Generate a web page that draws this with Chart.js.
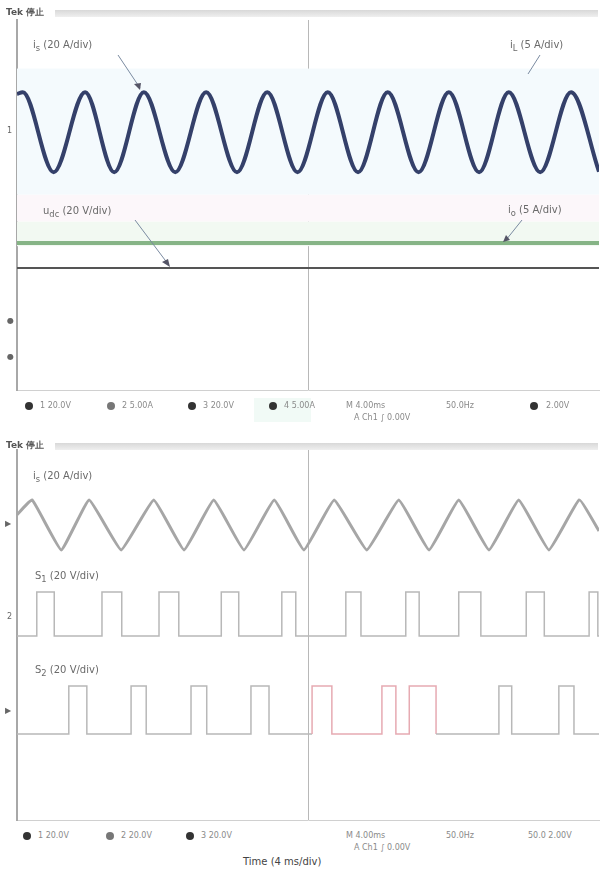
<!DOCTYPE html>
<html>
<head>
<meta charset="utf-8">
<script src="https://cdn.jsdelivr.net/npm/chart.js@4.4.1/dist/chart.umd.min.js"></script>
<style>
body { margin: 0; width: 602px; height: 874px; position: relative; overflow: hidden; background: #fff; font-family: "DejaVu Sans", sans-serif; }
.abs { position: absolute; white-space: nowrap; }
.lbl { font-size: 10px; color: #6a6a6a; }
.hdr { font-size: 9px; font-weight: bold; color: #555; }
.bar { height: 7px; background: linear-gradient(#d8d8d8, #efefef); }
.st { font-size: 8px; color: #8a8a8a; }
.dot { width: 8px; height: 8px; border-radius: 50%; background: #333; }
.mk { font-size: 8px; color: #666; }
#c1 { position: absolute; left: 0; top: 0; }
#c2 { position: absolute; left: 0; top: 440px; }
svg { position: absolute; left: 0; top: 0; }
</style>
</head>
<body>
<canvas id="c1" width="602" height="400"></canvas>
<canvas id="c2" width="602" height="388"></canvas>

<!-- headers -->
<div class="abs hdr" style="left:6px;top:6px;">Tek 停止</div>
<div class="abs bar" style="left:55px;top:10px;width:543px;"></div>
<div class="abs hdr" style="left:6px;top:439px;">Tek 停止</div>
<div class="abs bar" style="left:55px;top:443px;width:543px;"></div>

<!-- channel labels -->
<div class="abs lbl" style="left:33px;top:39px;">i<sub>s</sub> (20 A/div)</div>
<div class="abs lbl" style="left:510px;top:39px;">i<sub>L</sub> (5 A/div)</div>
<div class="abs lbl" style="left:43px;top:205px;">u<sub>dc</sub> (20 V/div)</div>
<div class="abs lbl" style="left:508px;top:204px;">i<sub>o</sub> (5 A/div)</div>
<div class="abs lbl" style="left:33px;top:470px;">i<sub>s</sub> (20 A/div)</div>
<div class="abs lbl" style="left:35px;top:570px;">S<sub>1</sub> (20 V/div)</div>
<div class="abs lbl" style="left:35px;top:664px;">S<sub>2</sub> (20 V/div)</div>

<!-- channel markers -->
<div class="abs mk" style="left:7px;top:126px;">1</div>
<div class="abs mk" style="left:7px;top:316px;">●</div>
<div class="abs mk" style="left:7px;top:352px;">●</div>
<div class="abs mk" style="left:5px;top:519px;">▶</div>
<div class="abs mk" style="left:7px;top:612px;">2</div>
<div class="abs mk" style="left:5px;top:706px;">▶</div>

<!-- status bars -->
<div class="abs dot" style="left:25px;top:402px;"></div>
<div class="abs st" style="left:40px;top:401px;">1 20.0V</div>
<div class="abs dot" style="left:107px;top:402px;background:#777;"></div>
<div class="abs st" style="left:122px;top:401px;">2 5.00A</div>
<div class="abs dot" style="left:188px;top:402px;"></div>
<div class="abs st" style="left:203px;top:401px;">3 20.0V</div>
<div class="abs" style="left:254px;top:398px;width:57px;height:24px;background:#f1faf6;"></div>
<div class="abs dot" style="left:269px;top:402px;"></div>
<div class="abs st" style="left:284px;top:401px;">4 5.00A</div>
<div class="abs st" style="left:346px;top:401px;">M 4.00ms</div>
<div class="abs st" style="left:354px;top:413px;">A Ch1 ∫ 0.00V</div>
<div class="abs st" style="left:446px;top:401px;">50.0Hz</div>
<div class="abs dot" style="left:530px;top:402px;"></div>
<div class="abs st" style="left:546px;top:401px;">2.00V</div>

<div class="abs dot" style="left:23px;top:832px;"></div>
<div class="abs st" style="left:38px;top:831px;">1 20.0V</div>
<div class="abs dot" style="left:106px;top:832px;background:#777;"></div>
<div class="abs st" style="left:121px;top:831px;">2 20.0V</div>
<div class="abs dot" style="left:186px;top:832px;"></div>
<div class="abs st" style="left:201px;top:831px;">3 20.0V</div>
<div class="abs st" style="left:346px;top:831px;">M 4.00ms</div>
<div class="abs st" style="left:354px;top:843px;">A Ch1 ∫ 0.00V</div>
<div class="abs st" style="left:446px;top:831px;">50.0Hz</div>
<div class="abs st" style="left:528px;top:831px;">50.0 2.00V</div>

<div class="abs" style="left:243px;top:856px;font-size:10px;color:#444;">Time (4 ms/div)</div>

<!-- annotation arrows -->
<svg width="602" height="874">
  <g stroke="#7a8aa0" stroke-width="1" fill="none">
    <line x1="118" y1="55" x2="140" y2="88"/>
    <line x1="540" y1="55" x2="528" y2="74"/>
    <line x1="135" y1="220" x2="168" y2="264"/>
    <line x1="522" y1="220" x2="506" y2="240"/>
  </g>
  <g fill="#556">
    <polygon points="140,90 134,84 141,83"/>
    <polygon points="170,267 162,262 168,259"/>
    <polygon points="503,242 506,235 510,240"/>
  </g>
</svg>

<script>
// x axis in divisions (10 div), y axis in divisions (8 div)
const xDivs = [0, 10];
const yDivs = [0, 8];

// top panel: channel 1 sine (extrema)
const sineX = [0, 0.10, 0.63, 1.17, 1.67, 2.18, 2.72, 3.25, 3.78, 4.30, 4.82, 5.34, 5.86, 6.37, 6.90, 7.42, 7.94, 8.45, 8.99, 9.52, 10.0];
const sineY = [6.40, 6.44, 4.71, 6.44, 4.71, 6.44, 4.71, 6.44, 4.71, 6.44, 4.71, 6.44, 4.71, 6.44, 4.71, 6.44, 4.71, 6.44, 4.71, 6.44, 4.72];
// top panel: flat traces
const greenLevel = 3.18;
const blackLevel = 2.64;
// tinted bands behind the top traces [from, to, colour]
const bands = [
    [4.22, 6.95, '#f4fafd'],
    [3.64, 4.22, '#fcf7fa'],
    [3.11, 3.64, '#f2f9f2']
];

// bottom panel: channel 1 triangle
const triX = [0, 0.26, 0.76, 1.24, 1.79, 2.35, 2.87, 3.38, 3.90, 4.42, 4.93, 5.45, 6.01, 6.56, 7.08, 7.59, 8.11, 8.62, 9.14, 9.66, 10];
const triY = [6.60, 6.92, 5.84, 6.92, 5.84, 6.92, 5.84, 6.92, 5.84, 6.92, 5.84, 6.92, 5.84, 6.92, 5.84, 6.92, 5.84, 6.92, 5.84, 6.92, 6.25];

// bottom panel: gate pulses [rise, fall] in div
const s1Pulses = [[0.34, 0.64], [1.46, 1.80], [2.44, 2.78], [3.51, 3.81], [4.55, 4.79], [5.65, 5.91], [6.68, 6.91], [7.59, 7.97], [8.75, 9.06], [9.83, 9.98]];
const s1Low = 3.98, s1High = 4.93;
const s2Pulses = [[0.89, 1.20], [1.96, 2.22], [2.99, 3.26], [4.02, 4.33], [5.07, 5.41], [6.27, 6.51], [6.74, 7.20], [8.28, 8.50], [9.31, 9.57]];
const s2Low = 1.86, s2High = 2.90;
// stretch of S2 drawn in red on the screen
const s2Red = [5.0, 7.25];

function zip(xs, ys) {
    return xs.map((x, i) => ({ x: x, y: ys[i] }));
}

function pulseTrain(pulses, low, high) {
    const pts = [{ x: xDivs[0], y: low }];
    pulses.forEach(p => {
        pts.push({ x: p[0], y: low }, { x: p[0], y: high }, { x: p[1], y: high }, { x: p[1], y: low });
    });
    pts.push({ x: xDivs[1], y: low });
    return pts;
}

const bandPlugin = {
    id: 'bands',
    beforeDatasetsDraw(chart, args, opts) {
        if (!opts.list) return;
        const { ctx, chartArea, scales } = chart;
        ctx.save();
        opts.list.forEach(b => {
            const y1 = scales.y.getPixelForValue(b[1]);
            const y0 = scales.y.getPixelForValue(b[0]);
            ctx.fillStyle = b[2];
            ctx.fillRect(chartArea.left, y1, chartArea.right - chartArea.left, y0 - y1);
        });
        ctx.restore();
    }
};

function scopeScales() {
    return {
        x: {
            type: 'linear', min: xDivs[0], max: xDivs[1],
            ticks: { display: false, stepSize: 1 },
            grid: { drawTicks: false, color: c => c.tick && c.tick.value === 5 ? '#b8b8b8' : 'transparent' },
            border: { color: '#d0d0d0' }
        },
        y: {
            min: yDivs[0], max: yDivs[1],
            ticks: { display: false },
            grid: { drawTicks: false, display: false },
            border: { color: '#a8a8a8', width: 2 }
        }
    };
}

const common = {
    responsive: false,
    animation: false,
    events: [],
    plugins: { legend: { display: false }, tooltip: { enabled: false } },
    elements: { point: { radius: 0 } }
};

new Chart(document.getElementById('c1'), {
    type: 'line',
    plugins: [bandPlugin],
    data: {
        datasets: [{
            data: zip(sineX, sineY),
            borderColor: '#34406a',
            borderWidth: 4,
            cubicInterpolationMode: 'monotone'
        }, {
            data: zip(xDivs, [greenLevel, greenLevel]),
            borderColor: '#86b486',
            borderWidth: 4
        }, {
            data: zip(xDivs, [blackLevel, blackLevel]),
            borderColor: '#555',
            borderWidth: 2
        }]
    },
    options: Object.assign({}, common, {
        layout: { padding: { left: 17, right: 3, top: 20, bottom: 10 } },
        scales: scopeScales(),
        plugins: Object.assign({}, common.plugins, { bands: { list: bands } })
    })
});

new Chart(document.getElementById('c2'), {
    type: 'line',
    data: {
        datasets: [{
            data: zip(triX, triY),
            borderColor: '#a6a6a6',
            borderWidth: 3,
            tension: 0.1
        }, {
            data: pulseTrain(s1Pulses, s1Low, s1High),
            borderColor: '#b8b8b8',
            borderWidth: 1.5
        }, {
            data: pulseTrain(s2Pulses, s2Low, s2High),
            borderColor: '#b8b8b8',
            borderWidth: 1.5,
            segment: {
                borderColor: s => (s.p0.parsed.x >= s2Red[0] && s.p1.parsed.x <= s2Red[1]) ? '#e6aab2' : undefined
            }
        }]
    },
    options: Object.assign({}, common, {
        layout: { padding: { left: 17, right: 3, top: 10, bottom: 8 } },
        scales: scopeScales()
    })
});
</script>
</body>
</html>
